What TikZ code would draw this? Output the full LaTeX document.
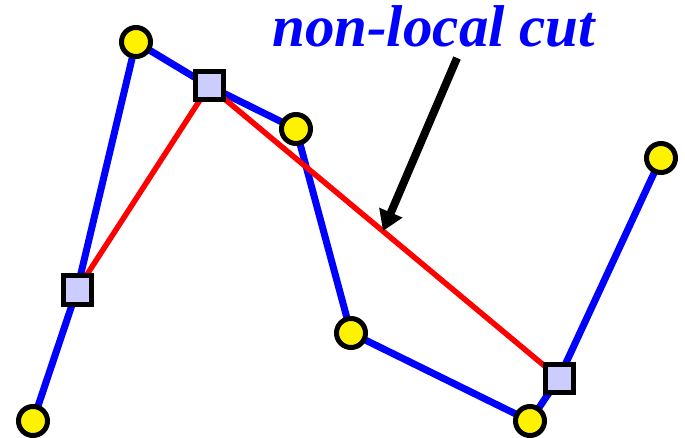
\documentclass[tikz,border=0pt]{standalone}
\usepackage{fontspec}
\setmainfont{Liberation Serif}
\usetikzlibrary{arrows.meta,backgrounds}
\tikzset{
  vert/.style={circle,draw=black,line width=5pt,fill=yellow,minimum size=29pt,inner sep=0pt},
  sq/.style={rectangle,draw=black,line width=5pt,fill={rgb,255:red,204;green,204;blue,255},minimum size=28pt,inner sep=0pt},
  bl/.style={draw={rgb,255:red,0;green,0;blue,255},line width=7pt},
  rd/.style={draw={rgb,255:red,255;green,0;blue,0},line width=5.5pt},
  arr/.style={draw=black,line width=8pt,-{Triangle[length=20pt,width=24pt]}},
}
\begin{document}
\begin{tikzpicture}[x=1pt,y=-1pt]
\useasboundingbox (0,0) rectangle (685,438);
\node[vert] (c1) at (33,421) {};
\node[vert] (c2) at (136,42) {};
\node[vert] (c3) at (296,129) {};
\node[vert] (c4) at (351,333) {};
\node[vert] (c5) at (530,421) {};
\node[vert] (c6) at (661,158) {};
\node[sq] (s1) at (77,290) {};
\node[sq] (s2) at (209,86) {};
\node[sq] (s3) at (559,378) {};
\begin{scope}[on background layer]
\draw[bl] (c1.center) -- (s1.center) -- (c2.center) -- (s2.center) -- (c3.center) -- (c4.center) -- (c5.center) -- (s3.center) -- (c6.center);
\draw[rd] (s1.center) -- (s2.center) -- (s3.center);
\end{scope}
\node[anchor=base west,inner sep=0pt,text={rgb,255:red,0;green,0;blue,255},font=\fontsize{59}{62}\selectfont\bfseries\itshape] (lbl) at (272,47) {non-local cut};
\coordinate (a1) at (457,58);
\coordinate (a2) at (383,231);
\draw[arr] (a1) -- (a2);
\end{tikzpicture}
\end{document}
